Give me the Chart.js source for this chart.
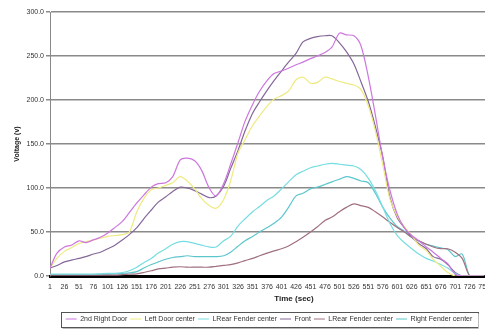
<!DOCTYPE html>
<html><head><meta charset="utf-8">
<script src="https://cdn.jsdelivr.net/npm/chart.js@4/dist/chart.umd.min.js"></script>
<style>html,body{margin:0;padding:0;background:#fff;overflow:hidden}
#wrap{position:relative;width:538px;height:330px}</style></head>
<body><div id="wrap"><canvas id="c"></canvas></div>
<script>
const times = [1,13,26,38,51,63,76,88,101,113,126,138,151,163,176,188,201,213,226,238,251,263,276,288,301,313,326,338,351,363,376,388,401,413,426,438,451,463,476,488,501,513,526,538,551,563,576,588,601,613,626,638,651,663,676,688,701,713,726,738,751];
const xTickLabels = [1,26,51,76,101,126,151,176,201,226,251,276,301,326,351,376,401,426,451,476,501,526,551,576,601,626,651,676,701,726,751];
const yTickLabels = [0,50,100,150,200,250,300];
const seriesNames = ["2nd Right Door","Left Door center","LRear Fender center","Front","LRear Fender center","Right Fender center"];

const secondRightDoor = [9,26,33,35,40,38,41,44,49,55,62,72,83,92,101,105,106,113,132,134,131,120,100,91,105,127,152,176,195,210,222,230,233,236,240,243,247,250,254,260,276,274,273,262,226,183,134,98,70,55,46,40,33,27,20,14,2,0,0,0,0];
const leftDoorCenter = [9,20,28,32,37,39,41,43,45,46,47,50,73,88,98,100,103,106,113,108,99,88,80,77,87,108,140,155,171,182,193,201,205,210,223,226,219,220,226,224,221,219,217,212,193,165,126,88,68,56,46,35,29,19,11,4,0,0,0,0,0];
const lRearFenderCenter1 = [2,2,2,2,2,2,2,2.5,3,3,4,6,10,15,20,26,31,36,39,39,37,35,33,33,40,45,57,65,73,79,86,91,99,107,115,119,123,125,127,128,127,126,125,121,111,97,78,60,46,38,31,25,20,17,13,9,3,0,0,0,0];
const front = [9,12,16,18,20,22,25,27,31,35,41,47,55,65,75,84,90,96,101,100,97,93,89,91,102,122,143,165,185,198,211,222,233,243,253,266,270,272,273,273,265,255,241,221,198,170,135,90,66,55,44,37,31,22,19,13,4,0,0,0,0];
const lRearFenderCenter2 = [1,1,1,1,1,1,1,1,1,1,1.5,2,2.5,4,6,8,9,10,10.5,10,10,10,10,11,12,13,15,17.5,20,23,26,28.5,31,34,39,44,50,56,63,67,73,78,82,80,78,73,67,61,55,50,44,40,36,33,31,31,27,20,0,0,0];
const rightFenderCenter = [2,2,2,2,2,2,2,2,2,2.5,3,3.5,5,9,13,16,19,21,22,23,22,22,22,22,23,27,34,40,45,50,55,60,67,78,91,94,99,101,104,107,110,113,111,108,106,94,78,66,56,51,44,40,36,34,32,30,22,25,0,0,0];

const seriesValues = [secondRightDoor,leftDoorCenter,lRearFenderCenter1,front,lRearFenderCenter2,rightFenderCenter];
const seriesColors = ['#cc77dd','#eeea80','#77dde2','#85689a','#a07080','#5cc6cc'];

const FONT = "'Liberation Sans', Arial, sans-serif";

const legendBorder = {
  id:'legendBorder',
  afterDraw(chart){
    const lg = chart.legend; if(!lg || !lg.legendHitBoxes) return;
    const hb = lg.legendHitBoxes;
    let x0=Infinity,x1=-Infinity,y0=Infinity,y1=-Infinity;
    hb.forEach(b=>{x0=Math.min(x0,b.left);x1=Math.max(x1,b.left+b.width);y0=Math.min(y0,b.top);y1=Math.max(y1,b.top+b.height);});
    const ctx=chart.ctx; ctx.save();
    ctx.strokeStyle='#555'; ctx.lineWidth=1;
    ctx.strokeRect(Math.round(x0-5)+0.5, Math.round(y0-4)+0.5, Math.round(x1-x0+10), Math.round(y1-y0+8));
    ctx.strokeStyle='#bbb';
    ctx.beginPath();
    ctx.moveTo(Math.round(x0-4)+0.5, Math.round(y1+5)+0.5); ctx.lineTo(Math.round(x1+6)+0.5, Math.round(y1+5)+0.5);
    ctx.lineTo(Math.round(x1+6)+0.5, Math.round(y0-3)+0.5);
    ctx.stroke();
    ctx.restore();
  }
};

new Chart(document.getElementById('c'), {
  type:'line',
  data:{
    datasets: seriesNames.map((n,i)=>({
      label:n,
      data: times.map((t,j)=>({x:t,y:seriesValues[i][j]})),
      borderColor: seriesColors[i],
      backgroundColor: seriesColors[i],
      borderWidth:1.2,
      pointRadius:0,
      tension:0.3,
      fill:false
    }))
  },
  options:{
    responsive:true, maintainAspectRatio:false, animation:false,
    layout:{padding:{left:0,right:0,top:12,bottom:-2.5}},
    plugins:{
      tooltip:{enabled:false},
      legend:{
        position:'bottom',
        labels:{
          usePointStyle:true, pointStyle:'line', pointStyleWidth:11, boxHeight:7,
          font:{family:FONT,size:7}, color:'#333', padding:3
        }
      }
    },
    scales:{
      x:{
        type:'linear', min:1, max:844,
        afterBuildTicks(s){ s.ticks = xTickLabels.map(v=>({value:v})); },
        afterFit(s){ s.height = 36.5; },
        ticks:{autoSkip:false, maxRotation:0, padding:7, font:{family:FONT,size:7}, color:'#333', callback:v=>String(v)},
        grid:{display:false, drawTicks:false},
        border:{display:true, color:'#000', width:3},
        title:{display:true, text:'Time (sec)', font:{family:FONT,size:8,weight:'bold'}, color:'#222', padding:{top:0,bottom:8.7}}
      },
      y:{
        min:0, max:300,
        afterBuildTicks(s){ s.ticks = yTickLabels.map(v=>({value:v})); },
        afterFit(s){ s.width = 50; },
        ticks:{padding:2, font:{family:FONT,size:7}, color:'#333', callback:v=>Number(v).toFixed(1)},
        grid:{color:'#8a8a8a', lineWidth:1.5, tickLength:4, drawTicks:true},
        border:{display:true, color:'#888', width:1},
        title:{display:true, text:'Voltage (v)', font:{family:FONT,size:7,weight:'bold'}, color:'#222', padding:{top:13,bottom:0}}
      }
    }
  },
  plugins:[legendBorder]
});
</script></body></html>
